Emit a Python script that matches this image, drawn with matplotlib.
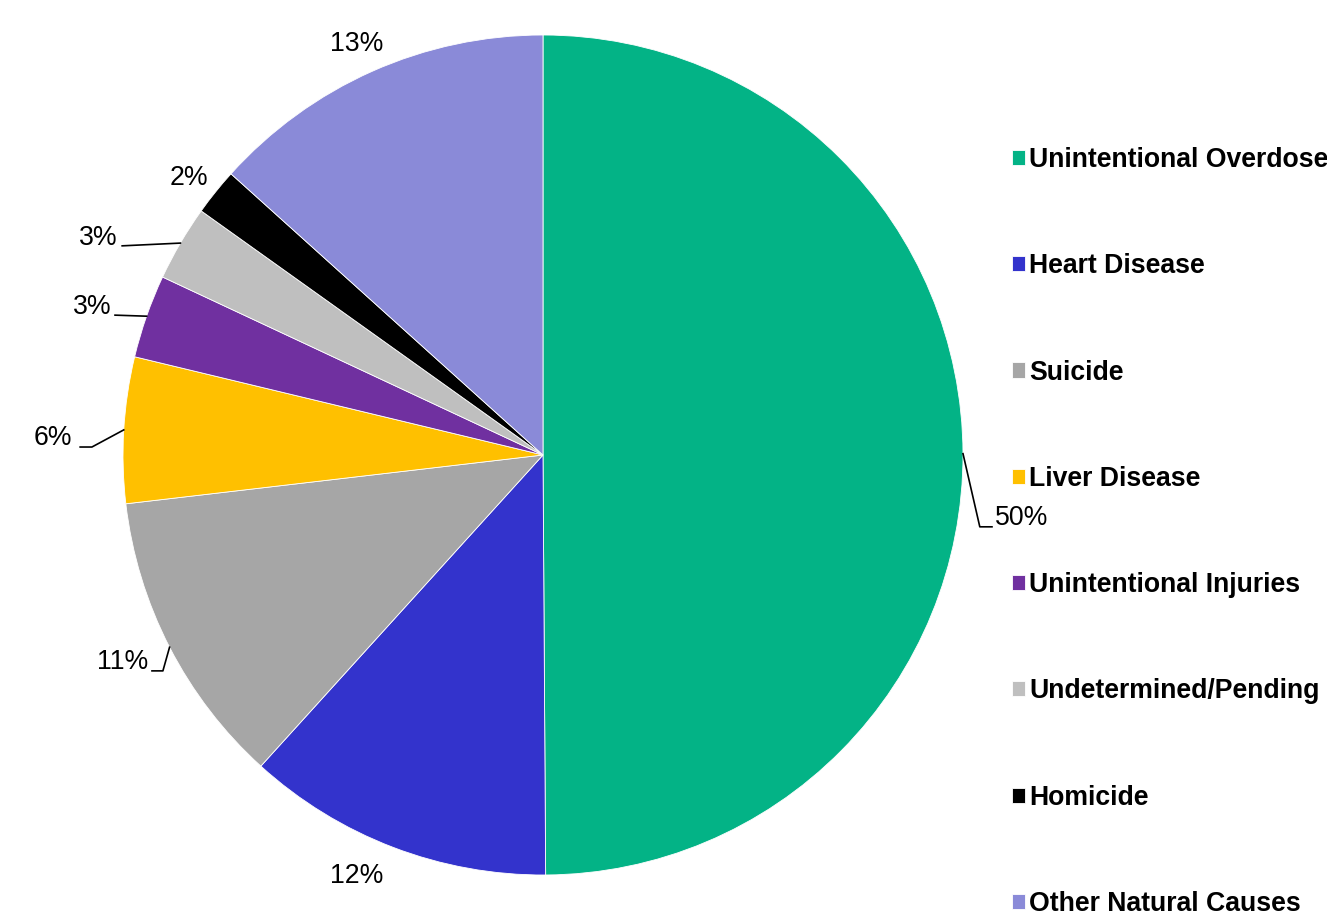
import matplotlib
matplotlib.use("Agg")
import matplotlib.pyplot as plt
import numpy as np

plt.rcParams['font.family'] = ['Liberation Sans', 'DejaVu Sans']

causes = ["Unintentional Overdose", "Heart Disease", "Suicide", "Liver Disease",
          "Unintentional Injuries", "Undetermined/Pending", "Homicide",
          "Other Natural Causes"]
shares = [49.8, 11.8, 11.4, 5.6, 3.2, 2.9, 1.8, 13.3]
colors = ["#03B386", "#3333CC", "#A6A6A6", "#FFC000", "#7030A0", "#BFBFBF",
          "#000000", "#8A8AD8"]

# label centre (data coords) and leader elbow points after the wedge edge
label_pos = [(1.140, -0.150), (-0.443, -1.002), (-1.002, -0.493), (-1.167, 0.040),
             (-1.074, 0.352), (-1.060, 0.517), (-0.843, 0.660), (-0.443, 0.979)]
leaders = [[(1.040, -0.171), (1.069, -0.171)], None,
           [(-0.905, -0.514), (-0.931, -0.514)],
           [(-1.074, 0.019), (-1.102, 0.019)],
           [(-1.019, 0.333)], [(-1.002, 0.498)], None, None]

W, H = 1327, 918
fig = plt.figure(figsize=(W / 100, H / 100), dpi=100)
cx, cy, r = 543, 455, 420
ax = fig.add_axes([(cx - r) / W, (H - cy - r) / H, 2 * r / W, 2 * r / H])

wedges, _ = ax.pie(shares, colors=colors, startangle=90, counterclock=False,
                   radius=1, wedgeprops=dict(edgecolor="white", linewidth=0.6))
ax.set_xlim(-1, 1)
ax.set_ylim(-1, 1)
ax.axis("off")

total = sum(shares)
for w, v, pos, lead in zip(wedges, shares, label_pos, leaders):
    ax.text(pos[0], pos[1], f"{v / total * 100:.0f}%", ha="center", va="center",
            fontsize=19.2, clip_on=False)
    if lead:
        mid = np.deg2rad((w.theta1 + w.theta2) / 2)
        pts = [(np.cos(mid), np.sin(mid))] + lead
        xs, ys = zip(*pts)
        ax.plot(xs, ys, color="black", lw=1.2, clip_on=False)

fig.legend(wedges, causes, loc="upper left",
           bbox_to_anchor=(1012 / W, 1 - 147 / H), frameon=False,
           prop=dict(weight="bold", size=19.2), handlelength=0.5,
           handleheight=0.5, handletextpad=0.15, labelspacing=3.01,
           borderpad=0, borderaxespad=0)

fig.savefig("out.png", dpi=100)
